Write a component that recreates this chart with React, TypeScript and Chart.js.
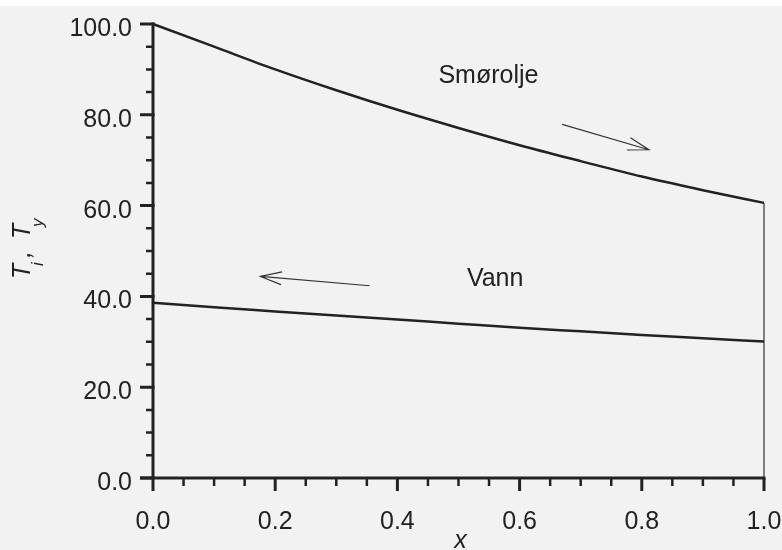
import React, { useEffect, useRef } from "react";
import { Chart, registerables } from "chart.js";

Chart.register(...registerables);

const X_VALUES = [0, 0.1, 0.2, 0.3, 0.4, 0.5, 0.6, 0.7, 0.8, 0.9, 1.0];
const SMOROLJE = [100, 95.0, 90.0, 85.4, 81.1, 77.1, 73.3, 69.8, 66.4, 63.4, 60.6];
const VANN = [38.6, 37.6, 36.7, 35.8, 34.9, 34.0, 33.1, 32.3, 31.5, 30.8, 30.05];

const X_TICKS = [0, 0.2, 0.4, 0.6, 0.8, 1.0];
const Y_TICKS = [0, 20, 40, 60, 80, 100];
const X_MINOR_STEP = 0.05;
const Y_MINOR_STEP = 5;

const LABEL_SMOROLJE = { text: "Smørolje", x: 0.549, y: 87.0 };
const LABEL_VANN = { text: "Vann", x: 0.56, y: 42.34 };
const ARROW_SMOROLJE = { from: [0.6697, 77.9], to: [0.8116, 72.3] };
const ARROW_VANN = { from: [0.3544, 42.34], to: [0.176, 44.39] };

const X_TITLE = "x";

const FONT = '"Liberation Sans", Arial, sans-serif';
const INK = "#222222";

const decorPlugin = {
  id: "decor",
  beforeDraw(chart: any) {
    const ctx = chart.ctx;
    ctx.save();
    ctx.fillStyle = "#ffffff";
    ctx.fillRect(0, 0, chart.width, chart.height);
    ctx.fillStyle = "#f2f2f2";
    ctx.fillRect(0, 6, chart.width, chart.height - 6);
    ctx.restore();
  },
  afterDraw(chart: any) {
    const ctx = chart.ctx;
    const xs = chart.scales.x;
    const ys = chart.scales.y;
    const px = (v: number) => xs.getPixelForValue(v);
    const py = (v: number) => ys.getPixelForValue(v);
    const x0 = px(0), x1 = px(1), y0 = py(0), yTop = py(100);

    ctx.save();
    ctx.strokeStyle = INK;
    ctx.lineCap = "butt";

    // axis lines
    ctx.lineWidth = 3;
    ctx.beginPath();
    ctx.moveTo(x0, yTop - 1.5);
    ctx.lineTo(x0, y0 + 1.5);
    ctx.moveTo(x0 - 13, y0);
    ctx.lineTo(x1 + 1.5, y0);
    ctx.stroke();

    // y major ticks
    ctx.beginPath();
    Y_TICKS.forEach((v) => {
      const y = py(v);
      ctx.moveTo(x0 - 13, y);
      ctx.lineTo(x0 + 1.5, y);
    });
    // x major ticks
    X_TICKS.forEach((v) => {
      const x = px(v);
      ctx.moveTo(x, v === 0 ? y0 - 1.5 : y0);
      ctx.lineTo(x, y0 + 13);
    });
    ctx.stroke();

    // minor ticks
    ctx.lineWidth = 2.5;
    ctx.beginPath();
    for (let v = Y_MINOR_STEP; v < 100; v += Y_MINOR_STEP) {
      if (v % 20 === 0) continue;
      const y = py(v);
      ctx.moveTo(x0 - 7, y);
      ctx.lineTo(x0, y);
    }
    for (let i = 1; i < 20; i++) {
      if (i % 4 === 0) continue;
      const x = px(i * X_MINOR_STEP);
      ctx.moveTo(x, y0);
      ctx.lineTo(x, y0 + 8);
    }
    ctx.stroke();

    // tick labels
    ctx.fillStyle = INK;
    ctx.font = `25px ${FONT}`;
    ctx.textBaseline = "alphabetic";
    ctx.textAlign = "right";
    Y_TICKS.forEach((v) => {
      ctx.fillText(v.toFixed(1), x0 - 21, py(v) + 12);
    });
    ctx.textAlign = "center";
    X_TICKS.forEach((v) => {
      ctx.fillText(v.toFixed(1), px(v), 529);
    });

    // x title
    ctx.font = `italic 25px ${FONT}`;
    ctx.fillText(X_TITLE, (x0 + x1) / 2 + 2, 548);

    // y title  T_i, T_y (rotated)
    ctx.save();
    ctx.translate(30, 279);
    ctx.rotate(-Math.PI / 2);
    ctx.textAlign = "left";
    ctx.font = `italic 25px ${FONT}`;
    ctx.fillText("T", 0, 0);
    ctx.fillText(",", 21, 0);
    ctx.fillText("T", 40, 0);
    ctx.font = `italic 17px ${FONT}`;
    ctx.fillText("i", 13, 13);
    ctx.fillText("y", 52, 13);
    ctx.restore();

    // annotations
    ctx.font = `25px ${FONT}`;
    ctx.textAlign = "center";
    [LABEL_SMOROLJE, LABEL_VANN].forEach((l) => {
      ctx.fillText(l.text, px(l.x), py(l.y));
    });

    // arrows
    ctx.strokeStyle = "#333333";
    ctx.lineWidth = 1.2;
    [ARROW_SMOROLJE, ARROW_VANN].forEach((a) => {
      const fx = px(a.from[0]), fy = py(a.from[1]);
      const tx = px(a.to[0]), ty = py(a.to[1]);
      const ang = Math.atan2(ty - fy, tx - fx);
      const len = 22;
      const spread = (17 * Math.PI) / 180;
      ctx.beginPath();
      ctx.moveTo(fx, fy);
      ctx.lineTo(tx, ty);
      ctx.moveTo(tx - len * Math.cos(ang - spread), ty - len * Math.sin(ang - spread));
      ctx.lineTo(tx, ty);
      ctx.lineTo(tx - len * Math.cos(ang + spread), ty - len * Math.sin(ang + spread));
      ctx.stroke();
    });

    ctx.restore();
  },
};

export default function App() {
  const canvasRef = useRef<HTMLCanvasElement | null>(null);

  useEffect(() => {
    if (!canvasRef.current) return;
    const chart = new Chart(canvasRef.current, {
      type: "line",
      data: {
        datasets: [
          {
            label: "Smørolje",
            data: X_VALUES.map((x, i) => ({ x, y: SMOROLJE[i] })),
            borderColor: INK,
            borderWidth: 2.5,
            pointRadius: 0,
            cubicInterpolationMode: "monotone",
            clip: false as any,
          },
          {
            label: "Vann",
            data: X_VALUES.map((x, i) => ({ x, y: VANN[i] })),
            borderColor: INK,
            borderWidth: 2.5,
            pointRadius: 0,
            cubicInterpolationMode: "monotone",
            clip: false as any,
          },
          {
            label: "edge",
            data: [
              { x: X_VALUES[X_VALUES.length - 1], y: SMOROLJE[SMOROLJE.length - 1] },
              { x: X_VALUES[X_VALUES.length - 1], y: 0 },
            ],
            borderColor: "#333333",
            borderWidth: 1.2,
            pointRadius: 0,
            clip: false as any,
          },
        ],
      },
      options: {
        animation: false,
        responsive: false,
        devicePixelRatio: 1,
        layout: { padding: { left: 153, right: 18, top: 24, bottom: 72 } },
        plugins: { legend: { display: false }, tooltip: { enabled: false } },
        events: [],
        scales: {
          x: { type: "linear", min: 0, max: 1, display: false },
          y: { type: "linear", min: 0, max: 100, display: false },
        },
      },
      plugins: [decorPlugin],
    });
    return () => chart.destroy();
  }, []);

  return (
    <div style={{ position: "fixed", left: 0, top: 0, width: 782, height: 550 }}>
      <canvas ref={canvasRef} width={782} height={550} style={{ display: "block" }} />
    </div>
  );
}
